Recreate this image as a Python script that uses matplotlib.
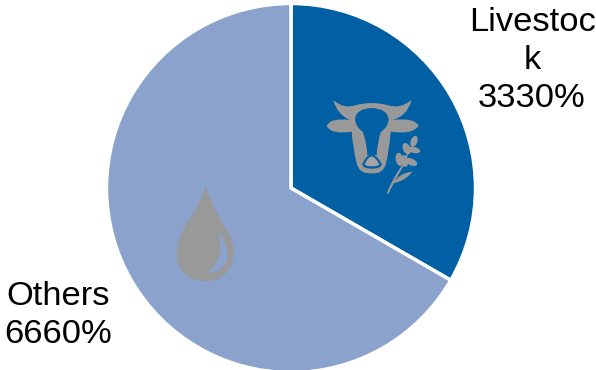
import matplotlib
matplotlib.use('Agg')
import matplotlib.pyplot as plt
from matplotlib.path import Path
from matplotlib.patches import PathPatch, Ellipse

labels = ['Livestoc\nk', 'Others']
values = [3330, 6660]
colors = ['#0060A3', '#8AA2CC']
grey = '#999999'

plt.rcParams['font.family'] = ['Liberation Sans', 'DejaVu Sans']

W, H = 596, 370
fig = plt.figure(figsize=(W / 100, H / 100), dpi=100)
ax = fig.add_axes([0, 0, 1, 1])

ax.pie(values, colors=colors, startangle=90, counterclock=False,
       center=(291, H - 188), radius=184.5, frame=True,
       wedgeprops={'edgecolor': 'white', 'linewidth': 2.5})
ax.set_xlim(0, W)
ax.set_ylim(0, H)
ax.set_aspect('equal')
ax.axis('off')

# etiquetas
ax.text(532, H - 60.5, labels[0] + '\n' + str(values[0]) + '%', ha='center', va='center',
        fontsize=24.8, linespacing=1.3)
ax.text(58.5, H - 315.5, labels[1] + '\n' + str(values[1]) + '%', ha='center', va='center',
        fontsize=24.8, linespacing=1.3)


def shape(pts, ox, oy, color, z=3):
    # pts: inicio y luego pares control/fin, en coordenadas del recorte ampliado x3
    xy = [(ox + x / 3, H - (oy + y / 3)) for x, y in pts]
    codes = [Path.MOVETO] + [Path.CURVE3] * (len(xy) - 1)
    ax.add_patch(PathPatch(Path(xy, codes), facecolor=color, edgecolor='none', zorder=z))


# vaca
cow = [(100, 60), (130, 88), (165, 76), (215, 62), (265, 76), (300, 88), (335, 60),
       (322, 108), (278, 120), (345, 112), (356, 138), (335, 165), (272, 155),
       (268, 210), (258, 250), (250, 284), (215, 280), (178, 284), (170, 250),
       (158, 200), (155, 155), (95, 165), (80, 138), (92, 112), (150, 120),
       (112, 105), (100, 60)]
shape(cow, 300, 80, grey)
forehead = [(215, 84), (168, 86), (165, 118), (168, 142), (188, 155), (200, 185), (202, 226),
            (215, 222), (230, 226), (232, 185), (243, 155), (264, 142), (266, 118),
            (262, 86), (215, 84)]
shape(forehead, 300, 80, colors[0], 4)
muzzle = [(215, 222), (230, 224), (245, 252), (245, 266), (215, 266), (187, 266), (187, 252),
          (200, 224), (215, 222)]
shape(muzzle, 300, 80, colors[0], 4)
muzzle2 = [(215, 229), (226, 231), (238, 252), (238, 259), (215, 259), (194, 259), (194, 252),
           (204, 231), (215, 229)]
shape(muzzle2, 300, 80, '#A3A3A3', 5)

# espiga
stem = [(260, 340), (278, 295), (302, 262), (322, 225), (332, 190), (328, 225), (306, 266),
        (285, 300), (265, 342), (262, 342), (260, 340)]
shape(stem, 300, 80, grey)
leaf = [(280, 310), (298, 278), (337, 275), (318, 302), (280, 310)]
shape(leaf, 300, 80, grey)
grains = [(298, 238, 22, 40, 10), (320, 206, 22, 36, 25), (342, 184, 20, 34, -20),
          (334, 246, 38, 20, -25), (342, 210, 38, 18, -12), (314, 243, 20, 36, 10)]
for gx, gy, gw, gh, ang in grains:
    ax.add_patch(Ellipse((300 + gx / 3, H - (80 + gy / 3)), gw / 3, gh / 3, angle=ang,
                         facecolor=grey, edgecolor='none', zorder=3))

# gota
drop = [(167, 45), (185, 110), (225, 170), (252, 215), (252, 245), (245, 333), (165, 333),
        (80, 330), (80, 245), (85, 195), (120, 145), (155, 95), (167, 45)]
shape(drop, 150, 170, grey)
shine = [(205, 178), (238, 235), (232, 270), (215, 310), (170, 308), (208, 285), (210, 235),
         (210, 205), (205, 178)]
shape(shine, 150, 170, colors[1], 4)

fig.savefig('out.png', dpi=100)
